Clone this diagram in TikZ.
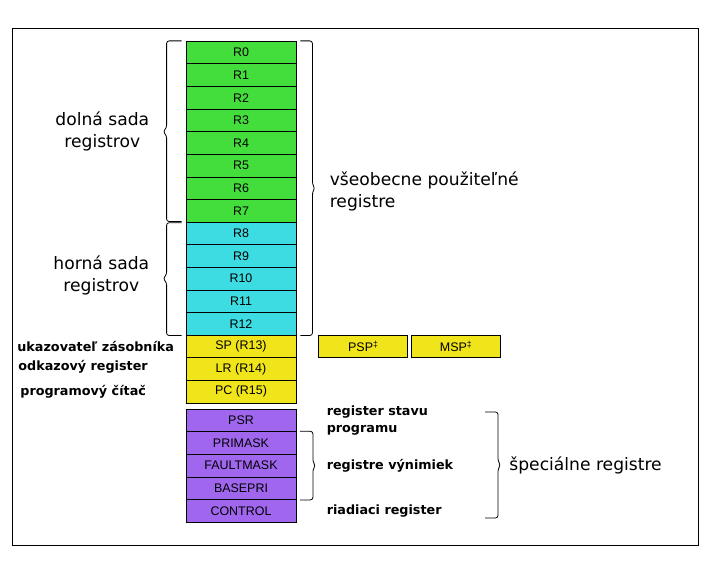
\documentclass[tikz,border=0pt]{standalone}
\usepackage{fontspec}
\setmainfont{DejaVu Sans}
\newfontfamily\regfont{Liberation Sans}
\usetikzlibrary{positioning,calc}

\definecolor{grn}{RGB}{68,222,60}
\definecolor{cyn}{RGB}{61,220,226}
\definecolor{ylw}{RGB}{240,228,26}
\definecolor{prp}{RGB}{160,102,238}

\begin{document}
\begin{tikzpicture}[x=1bp,y=-1bp,node distance=22.6bp,line width=0.8bp,
  reg/.style={draw,minimum width=110bp,minimum height=22.6bp,inner sep=0pt,font=\regfont\fontsize{12.5}{14}\selectfont},
  big/.style={inner sep=0pt,font=\fontsize{17.2}{22.5}\selectfont},
  lbl/.style={inner sep=0pt,font=\bfseries\fontsize{12.8}{17}\selectfont},
  brc/.style={draw,rounded corners=2.5bp}]

            \useasboundingbox (0,0) rectangle (709,561);
            \draw (12,28) rectangle (698,545);

            % general purpose registers
            \node[reg, fill=grn] (r0) at (241,52.6){R0};
            \node[reg, fill=grn] (r1) [below of = r0]{R1};
            \node[reg, fill=grn] (r2) [below of = r1]{R2};
            \node[reg, fill=grn] (r3) [below of = r2]{R3};
            \node[reg, fill=grn] (r4) [below of = r3]{R4};
            \node[reg, fill=grn] (r5) [below of = r4]{R5};
            \node[reg, fill=grn] (r6) [below of = r5]{R6};
            \node[reg, fill=grn] (r7) [below of = r6]{R7};
            \node[reg, fill=cyn] (r8) [below of = r7]{R8};
            \node[reg, fill=cyn] (r9) [below of = r8]{R9};
            \node[reg, fill=cyn] (r10) [below of = r9]{R10};
            \node[reg, fill=cyn] (r11) [below of = r10]{R11};
            \node[reg, fill=cyn] (r12) [below of = r11]{R12};
            \node[reg, fill=ylw] (sp) [below of = r12]{SP (R13)};
            \node[reg, fill=ylw] (lr) [below of = sp]{LR (R14)};
            \node[reg, fill=ylw] (pc) [below of = lr]{PC (R15)};
            \node[reg, fill=ylw, minimum width=89bp] (psp) [right=22bp of sp]{PSP\textsuperscript{‡}};
            \node[reg, fill=ylw, minimum width=89bp] (msp) [right=3bp of psp]{MSP\textsuperscript{‡}};

            % special registers
            \node[reg, fill=prp] (psr) [below=5.4bp of pc]{PSR};
            \node[reg, fill=prp] (primask) [below of = psr]{PRIMASK};
            \node[reg, fill=prp] (faultmask) [below of = primask]{FAULTMASK};
            \node[reg, fill=prp] (basepri) [below of = faultmask]{BASEPRI};
            \node[reg, fill=prp] (control) [below of = basepri]{CONTROL};

            % braces
            \coordinate (lotip) at ($(r0.north west)!.5!(r7.south west)$);
            \coordinate (hitip) at ($(r8.north west)!.5!(r12.south west)$);
            \coordinate (gptip) at ($(r0.north east)!.5!(r12.south east)$);
            \coordinate (extip) at ($(primask.north east)!.5!(basepri.south east)$);
            \coordinate (sptop) at (485,412);
            \coordinate (spbot) at (485,518);
            \coordinate (sptip) at ($(sptop)!.5!(spbot)$);

            \draw[brc] ([xshift=-4bp]r0.north west) -- ([xshift=-19bp]r0.north west) -- ([xshift=-19bp,yshift=4bp]lotip) -- ([xshift=-22.5bp]lotip) -- ([xshift=-19bp,yshift=-4bp]lotip) -- ([xshift=-19bp,yshift=1bp]r7.south west) -- ([xshift=-4bp,yshift=1bp]r7.south west);
            \draw[brc] ([xshift=-4bp,yshift=-1bp]r8.north west) -- ([xshift=-19bp,yshift=-1bp]r8.north west) -- ([xshift=-19bp,yshift=4bp]hitip) -- ([xshift=-22.5bp]hitip) -- ([xshift=-19bp,yshift=-4bp]hitip) -- ([xshift=-19bp]r12.south west) -- ([xshift=-4bp]r12.south west);
            \draw[brc] ([xshift=4bp]r0.north east) -- ([xshift=16bp]r0.north east) -- ([xshift=16bp,yshift=4bp]gptip) -- ([xshift=18.5bp]gptip) -- ([xshift=16bp,yshift=-4bp]gptip) -- ([xshift=16bp]r12.south east) -- ([xshift=4bp]r12.south east);
            \draw[brc] ([xshift=3.5bp]primask.north east) -- ([xshift=16.5bp]primask.north east) -- ([xshift=16.5bp,yshift=4bp]extip) -- ([xshift=19bp]extip) -- ([xshift=16.5bp,yshift=-4bp]extip) -- ([xshift=16.5bp]basepri.south east) -- ([xshift=3.5bp]basepri.south east);
            \draw[brc] (sptop) -- ([xshift=13bp]sptop) -- ([xshift=13bp,yshift=4bp]sptip) -- ([xshift=15.5bp]sptip) -- ([xshift=13bp,yshift=-4bp]sptip) -- ([xshift=13bp]spbot) -- (spbot);

            % labels
            \node[big, align=center] (dolna) [left=36bp of lotip]{dolná sada\\registrov};
            \node[big, align=center] (horna) [left=36bp of hitip, yshift=3bp]{horná sada\\registrov};
            \node[big, align=left] (vseob) [right=33bp of gptip, yshift=-3bp]{všeobecne použiteľné\\registre};
            \node[big] (special) [right=24bp of sptip]{špeciálne registre};

            \node[lbl, anchor=west] (spname) at (17,0 |- sp){ukazovateľ zásobníka};
            \node[lbl, anchor=west] (lrname) at (18,0 |- lr)[yshift=2.5bp]{odkazový register};
            \node[lbl, anchor=west] (pcname) at (20,0 |- pc){programový čítač};
            \node[lbl, align=left] (psrname) [right=30bp of psr]{register stavu\\programu};
            \node[lbl] (exname) [right=30bp of extip]{registre výnimiek};
            \node[lbl] (ctrlname) [right=30bp of control]{riadiaci register};

            ;
        \end{tikzpicture}
\end{document}
